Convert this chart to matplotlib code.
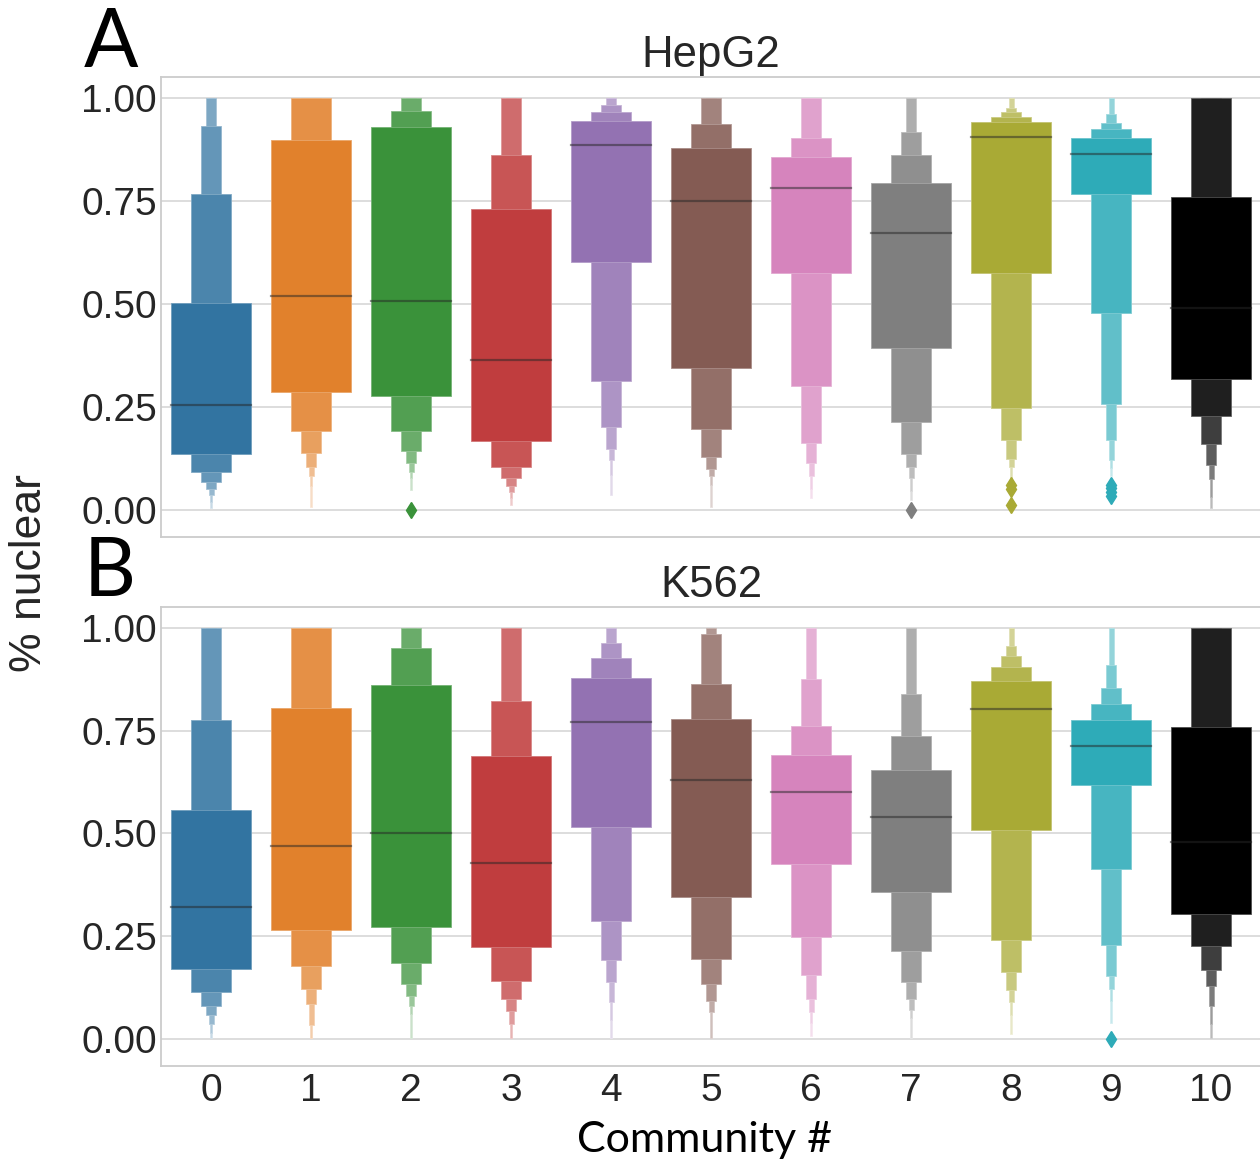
import numpy as np
import matplotlib
matplotlib.use("Agg")
import matplotlib.pyplot as plt
from matplotlib.colors import to_rgb

plt.rcParams['font.family'] = ['Liberation Sans', 'DejaVu Sans']

communities = list(range(11))
palette = ['#3274a1', '#e1812c', '#3a923a', '#c03d3e', '#9372b2', '#845b53',
           '#d684bd', '#7f7f7f', '#a9aa35', '#2eabb8', '#000000']

# letter-value box ends, innermost level first
hepg2_lower = [
    [0.135, 0.091, 0.067, 0.050, 0.036, 0.020, 0.004],
    [0.287, 0.191, 0.138, 0.105, 0.081, 0.057, 0.008],
    [0.277, 0.191, 0.142, 0.113, 0.093, 0.077, 0.048],
    [0.168, 0.105, 0.078, 0.058, 0.043, 0.029, 0.012],
    [0.601, 0.313, 0.201, 0.148, 0.120, 0.085, 0.037],
    [0.345, 0.197, 0.129, 0.099, 0.081, 0.061, 0.008],
    [0.576, 0.301, 0.163, 0.113, 0.081, 0.050, 0.029],
    [0.394, 0.213, 0.136, 0.103, 0.077, 0.045, 0.024],
    [0.576, 0.247, 0.170, 0.124, 0.105, 0.077, 0.065],
    [0.767, 0.477, 0.258, 0.169, 0.121, 0.101, 0.081],
    [0.318, 0.227, 0.159, 0.108, 0.074, 0.030, 0.004],
]
hepg2_upper = [
    [0.503, 0.768, 0.932, 1.0, 1.0, 1.0, 1.0],
    [0.898, 1.0, 1.0, 1.0, 1.0, 1.0, 1.0],
    [0.929, 0.969, 1.0, 1.0, 1.0, 1.0, 1.0],
    [0.731, 0.862, 1.0, 1.0, 1.0, 1.0, 1.0],
    [0.944, 0.965, 0.983, 1.0, 1.0, 1.0, 1.0],
    [0.878, 0.936, 1.0, 1.0, 1.0, 1.0, 1.0],
    [0.856, 0.904, 1.0, 1.0, 1.0, 1.0, 1.0],
    [0.794, 0.861, 0.918, 1.0, 1.0, 1.0, 1.0],
    [0.941, 0.955, 0.965, 0.975, 1.0, 1.0, 1.0],
    [0.902, 0.924, 0.940, 0.960, 1.0, 1.0, 1.0],
    [0.760, 1.0, 1.0, 1.0, 1.0, 1.0, 1.0],
]
hepg2_median = [0.255, 0.520, 0.507, 0.364, 0.886, 0.749, 0.782, 0.672, 0.906, 0.865, 0.490]
hepg2_outliers = [[], [], [0.0], [], [], [], [], [0.0], [0.060, 0.050, 0.012],
                  [0.061, 0.052, 0.044, 0.033], []]

k562_lower = [
    [0.171, 0.114, 0.079, 0.057, 0.035, 0.015, 0.003],
    [0.264, 0.177, 0.121, 0.086, 0.033, 0.003, 0.001],
    [0.272, 0.185, 0.134, 0.104, 0.081, 0.061, 0.003],
    [0.223, 0.142, 0.096, 0.067, 0.037, 0.003, 0.001],
    [0.516, 0.286, 0.193, 0.138, 0.089, 0.045, 0.003],
    [0.346, 0.194, 0.134, 0.091, 0.065, 0.003, 0.001],
    [0.425, 0.249, 0.155, 0.096, 0.066, 0.039, 0.007],
    [0.358, 0.214, 0.138, 0.097, 0.071, 0.051, 0.003],
    [0.508, 0.241, 0.163, 0.120, 0.089, 0.059, 0.011],
    [0.617, 0.414, 0.229, 0.152, 0.122, 0.092, 0.039],
    [0.305, 0.227, 0.167, 0.128, 0.079, 0.035, 0.003],
]
k562_upper = [
    [0.557, 0.777, 1.0, 1.0, 1.0, 1.0, 1.0],
    [0.806, 1.0, 1.0, 1.0, 1.0, 1.0, 1.0],
    [0.862, 0.951, 1.0, 1.0, 1.0, 1.0, 1.0],
    [0.689, 0.823, 1.0, 1.0, 1.0, 1.0, 1.0],
    [0.879, 0.927, 0.964, 1.0, 1.0, 1.0, 1.0],
    [0.779, 0.864, 0.986, 1.0, 1.0, 1.0, 1.0],
    [0.692, 0.761, 0.875, 1.0, 1.0, 1.0, 1.0],
    [0.654, 0.738, 0.839, 1.0, 1.0, 1.0, 1.0],
    [0.870, 0.905, 0.931, 0.956, 1.0, 1.0, 1.0],
    [0.777, 0.815, 0.854, 0.909, 1.0, 1.0, 1.0],
    [0.759, 1.0, 1.0, 1.0, 1.0, 1.0, 1.0],
]
k562_median = [0.320, 0.470, 0.501, 0.428, 0.771, 0.631, 0.600, 0.539, 0.802, 0.713, 0.478]
k562_outliers = [[], [], [], [], [], [], [], [], [], [0.0], []]


def lighten(c, f):
    c = np.array(to_rgb(c))
    return tuple(c + (1 - c) * f)


def boxen(ax, lower, upper, median, outliers):
    for i, x in enumerate(communities):
        col = palette[i]
        nlev = len(lower[i])
        # outermost first so inner (wider) boxes sit on top
        for j in range(nlev - 1, -1, -1):
            fc = lighten(col, 0.85 * j / 7)
            ax.bar(x, upper[i][j] - lower[i][j], bottom=lower[i][j],
                   width=0.8 * 0.5 ** j, color=fc,
                   edgecolor=lighten(fc, 0.3), linewidth=0.6, zorder=2)
        ax.plot([x - 0.4, x + 0.4], [median[i], median[i]], color='.15',
                alpha=0.5, lw=1.6, zorder=3)
        if outliers[i]:
            ax.plot([x] * len(outliers[i]), outliers[i], 'd', color=col,
                    ms=8, mec=col, zorder=3)


fig = plt.figure(figsize=(12.6, 11.62), dpi=100)
W, H = 1260, 1162
ax1 = fig.add_axes([161 / W, 1 - 537 / H, 1100 / W, 460 / H])
ax2 = fig.add_axes([161 / W, 1 - 1066 / H, 1100 / W, 459 / H])

boxen(ax1, hepg2_lower, hepg2_upper, hepg2_median, hepg2_outliers)
boxen(ax2, k562_lower, k562_upper, k562_median, k562_outliers)

for ax, title in [(ax1, 'HepG2'), (ax2, 'K562')]:
    ax.set_xlim(-0.5, 10.5)
    ax.set_ylim(-0.066, 1.051)
    ax.set_yticks([0, 0.25, 0.5, 0.75, 1.0])
    ax.set_yticklabels(['0.00', '0.25', '0.50', '0.75', '1.00'])
    ax.set_xticks(communities)
    ax.yaxis.grid(True, color='#dddddd', lw=1.4, zorder=0)
    ax.set_axisbelow(True)
    ax.tick_params(length=0, labelsize=28, colors='.15', pad=3)
    for s in ax.spines.values():
        s.set_color('.8')
        s.set_linewidth(1.3)
    ax.set_title(title, fontsize=31.5, color='.15', pad=7)

ax1.set_xticklabels([])
ax2.set_xticklabels([str(c) for c in communities])
ax2.tick_params(axis='x', pad=5)

fig.text(30 / W, 1 - 573 / H, '% nuclear', rotation=90, fontsize=32,
         color='.15', ha='center', va='center')
fig.text(705 / W, 1 - 1152 / H, 'Community #', fontsize=31, family='Lato',
         ha='center', va='baseline')
fig.text(84 / W, 1 - 67 / H, 'A', fontsize=58, family='Lato', va='baseline')
fig.text(84 / W, 1 - 596 / H, 'B', fontsize=58, family='Lato', va='baseline')

fig.savefig('out.png', dpi=100)
